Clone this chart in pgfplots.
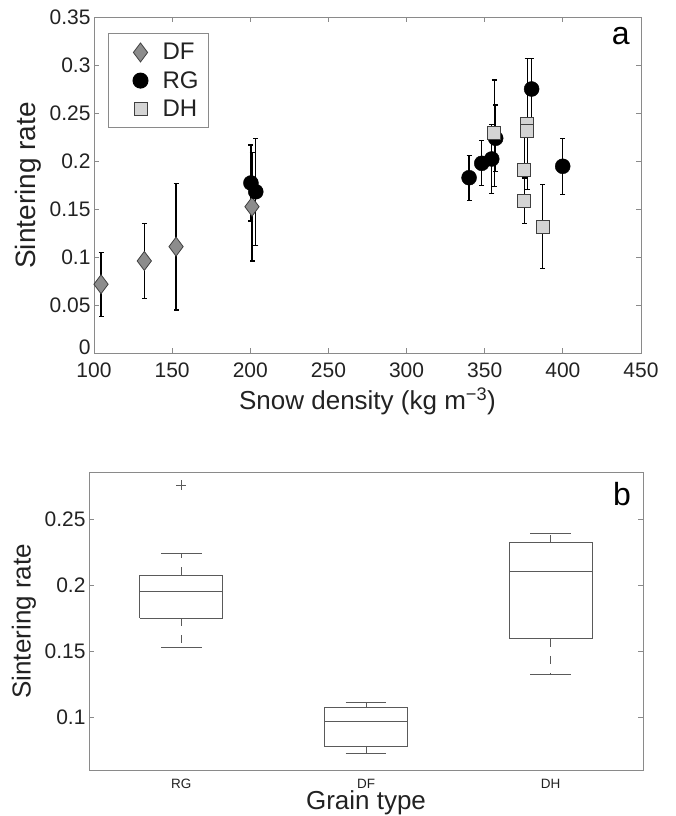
\documentclass[border=0pt]{standalone}
\usepackage{fontspec}
\setmainfont{Liberation Sans}
\usepackage{pgfplots}
\pgfplotsset{compat=1.18}
\definecolor{axgray}{HTML}{8A8A8A}
\definecolor{txt}{HTML}{222222}
\definecolor{dffill}{HTML}{8C8C8C}
\definecolor{dhfill}{HTML}{D4D4D4}
\definecolor{edge}{HTML}{404040}
\definecolor{boxcol}{HTML}{5A5A5A}
\pgfplotsset{
  mylegimg/.style={legend image code/.code={\path[draw=none,fill=none] (0pt,-8pt) rectangle (44pt,8pt); \draw[##1] plot coordinates {(24pt,0pt)};}},
  boxline/.style={boxcol, line width=0.9pt, no markers, line join=miter},
  whisk/.style={boxcol, line width=0.9pt, no markers, dash pattern=on 8pt off 9pt},
}
\begin{document}
\begin{tikzpicture}
\useasboundingbox (0pt,0pt) rectangle (675pt,816pt);
% ---------------- panel a
\begin{axis}[
  at={(94pt,462.5pt)}, anchor=south west, scale only axis,
  width=547pt, height=336pt,
  xmin=100, xmax=450, ymin=0, ymax=0.35,
  xtick={100,150,200,250,300,350,400,450},
  ytick={0.05,0.1,0.15,0.2,0.25,0.3,0.35},
  extra y ticks={0},
  extra y tick style={yticklabel style={yshift=6pt}},
  scaled y ticks=false,
  /pgf/number format/assume math mode=true,
  yticklabel style={/pgf/number format/fixed, /pgf/number format/precision=2, font=\fontsize{21}{25}\selectfont, text=txt},
  xticklabel style={font=\fontsize{21}{25}\selectfont, text=txt, anchor=base, yshift=-24.5pt},
  axis line style={axgray, line width=1pt},
  tick style={axgray, line width=0.8pt},
  major tick length=5pt, tick align=inside,
  xlabel={Snow density (kg m\textsuperscript{−3})},
  xlabel style={font=\fontsize{26}{30}\selectfont, text=txt, at={(axis description cs:0.5,-0.168)}, anchor=base},
  ylabel={Sintering rate},
  ylabel style={font=\fontsize{28}{32}\selectfont, text=txt, at={(axis description cs:-0.1207,0.5)}, anchor=center, rotate=0},
  legend style={at={(0.0256,0.954)}, anchor=north west, draw=axgray, line width=1pt,
    font=\fontsize{24}{28}\selectfont, text=txt, inner xsep=8pt, inner ysep=8pt,
    cells={anchor=west}, row sep=6pt},
]
\addplot[only marks, mylegimg, mark=diamond*, mark size=9.5pt,
  mark options={fill=dffill, draw=edge, line width=0.8pt},
  error bars/.cd, y dir=both, y explicit,
  error bar style={black, line width=1.2pt},
  error mark options={rotate=90, black, line width=1.2pt, mark size=2.5pt}]
  table[x=x, y=y, y error=e, row sep=\\]{
  x y e\\
  104.5 0.0721 0.0333\\
  132.2 0.0964 0.0388\\
  152.5 0.1113 0.0660\\
  201.1 0.1529 0.0565\\
  };
\addlegendentry{DF}
\addplot[only marks, mylegimg, mark=*, mark size=7.5pt,
  mark options={fill=black, draw=black},
  error bars/.cd, y dir=both, y explicit,
  error bar style={black, line width=1.2pt},
  error mark options={rotate=90, black, line width=1.2pt, mark size=2.5pt}]
  table[x=x, y=y, y error=e, row sep=\\]{
  x y e\\
  200.4 0.1776 0.0396\\
  203.5 0.1685 0.0557\\
  340.0 0.1831 0.0235\\
  348.1 0.1981 0.0235\\
  354.5 0.2026 0.0357\\
  357.0 0.2242 0.0347\\
  380.0 0.2755 0.0318\\
  399.9 0.1950 0.0290\\
  };
\addlegendentry{RG}
\addplot[only marks, mylegimg, mark=square*, mark size=6.5pt,
  mark options={fill=dhfill, draw=edge, line width=0.8pt},
  error bars/.cd, y dir=both, y explicit,
  error bar style={black, line width=1.2pt},
  error mark options={rotate=90, black, line width=1.2pt, mark size=2.5pt}]
  table[x=x, y=y, y error=e, row sep=\\]{
  x y e\\
  356.1 0.2294 0.0555\\
  377.2 0.2391 0.0680\\
  377.2 0.2321 0.0450\\
  375.2 0.1911 0.0350\\
  375.2 0.1592 0.0236\\
  387.1 0.1321 0.0437\\
  };
\addlegendentry{DH}
\node[font=\fontsize{32}{36}\selectfont, text=black] at (rel axis cs:0.963,0.945) {a};
\end{axis}
% ---------------- panel b
\begin{axis}[
  at={(89pt,46pt)}, anchor=south west, scale only axis,
  width=554pt, height=297.3pt,
  xmin=0.5, xmax=3.5, ymin=0.06, ymax=0.285,
  xtick={1,2,3}, xticklabels={RG,DF,DH},
  major x tick style={draw=none},
  ytick={0.1,0.15,0.2,0.25},
  scaled y ticks=false,
  /pgf/number format/assume math mode=true,
  yticklabel style={/pgf/number format/fixed, /pgf/number format/precision=2, font=\fontsize{21}{25}\selectfont, text=txt},
  xticklabel style={font=\fontsize{13.5}{16}\selectfont, text=txt, anchor=base, yshift=-18pt},
  axis line style={axgray, line width=1pt},
  tick style={axgray, line width=0.8pt},
  major tick length=5pt, tick align=inside,
  xlabel={Grain type},
  xlabel style={font=\fontsize{26}{30}\selectfont, text=txt, at={(axis description cs:0.5,-0.1345)}, anchor=base},
  ylabel={Sintering rate},
  ylabel style={font=\fontsize{26}{30}\selectfont, text=txt, at={(axis description cs:-0.1173,0.5)}, anchor=center, rotate=0},
]
% RG: lower whisker 0.153, Q1 0.175, median 0.195, Q3 0.2076, upper whisker 0.2237, outlier 0.2755
\addplot[boxline] coordinates {(0.775,0.175) (1.225,0.175) (1.225,0.2076) (0.775,0.2076) (0.775,0.175)};
\addplot[boxline] coordinates {(0.775,0.195) (1.225,0.195)};
\addplot[whisk] coordinates {(1,0.2076) (1,0.2237)};
\addplot[whisk] coordinates {(1,0.175) (1,0.153)};
\addplot[boxline] coordinates {(0.89,0.2237) (1.11,0.2237)};
\addplot[boxline] coordinates {(0.89,0.153) (1.11,0.153)};
\addplot[only marks, mark=+, mark size=5pt, mark options={boxcol, line width=0.9pt}] coordinates {(1,0.2755)};
% DF: 0.0722, 0.0782, 0.097, 0.1076, 0.1112
\addplot[boxline] coordinates {(1.775,0.0782) (2.225,0.0782) (2.225,0.1076) (1.775,0.1076) (1.775,0.0782)};
\addplot[boxline] coordinates {(1.775,0.097) (2.225,0.097)};
\addplot[whisk] coordinates {(2,0.1076) (2,0.1112)};
\addplot[whisk] coordinates {(2,0.0782) (2,0.0722)};
\addplot[boxline] coordinates {(1.89,0.1112) (2.11,0.1112)};
\addplot[boxline] coordinates {(1.89,0.0722) (2.11,0.0722)};
% DH: 0.1325, 0.1593, 0.2099, 0.2321, 0.2391
\addplot[boxline] coordinates {(2.775,0.1593) (3.225,0.1593) (3.225,0.2321) (2.775,0.2321) (2.775,0.1593)};
\addplot[boxline] coordinates {(2.775,0.2099) (3.225,0.2099)};
\addplot[whisk] coordinates {(3,0.2321) (3,0.2391)};
\addplot[whisk] coordinates {(3,0.1593) (3,0.1325)};
\addplot[boxline] coordinates {(2.89,0.2391) (3.11,0.2391)};
\addplot[boxline] coordinates {(2.89,0.1325) (3.11,0.1325)};
\node[font=\fontsize{32}{36}\selectfont, text=black] at (rel axis cs:0.962,0.928) {b};
\end{axis}
\end{tikzpicture}
\end{document}
